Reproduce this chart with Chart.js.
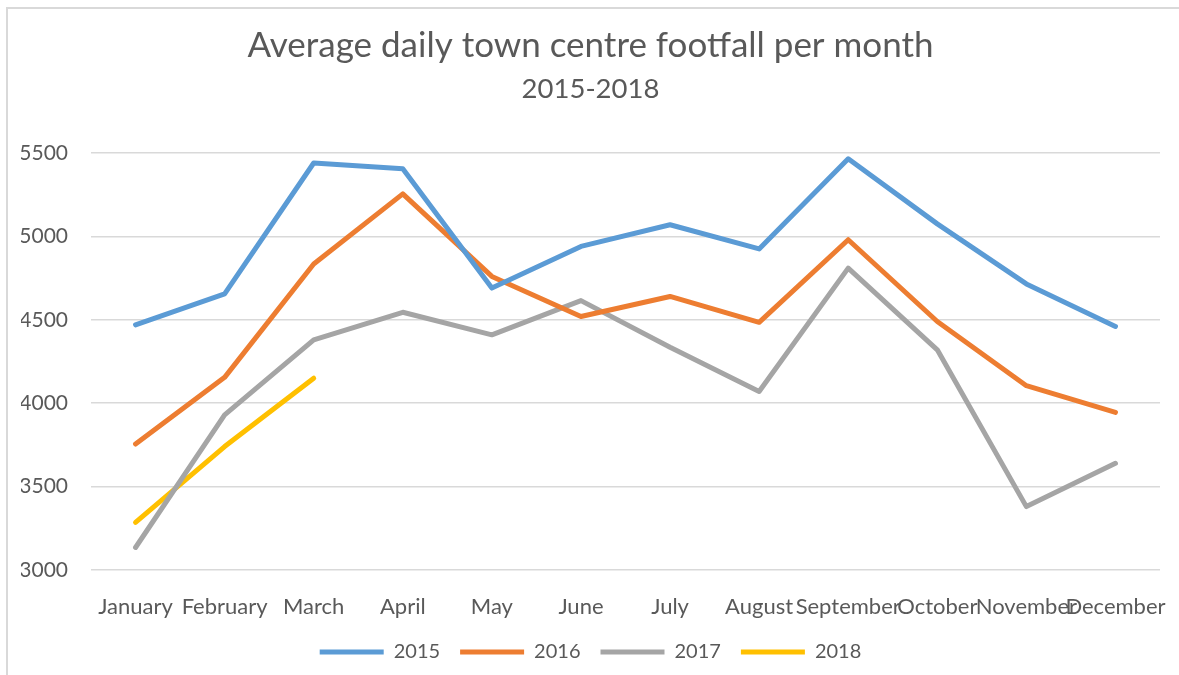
<!DOCTYPE html>
<html>
<head>
<meta charset="utf-8">
<script src="https://cdn.jsdelivr.net/npm/chart.js@4/dist/chart.umd.min.js"></script>
<style>
  html, body { margin: 0; padding: 0; background: #ffffff; }
  #wrap { position: relative; width: 1179px; height: 675px; overflow: hidden; }
  #frame { position: absolute; left: 6px; top: 7px; width: 1300px; height: 800px;
           border-top: 2px solid #d9d9d9; border-left: 2px solid #d9d9d9; }
  #myChart { position: absolute; left: 0; top: 0; }
</style>
</head>
<body>
<div id="wrap">
  <div id="frame"></div>
  <canvas id="myChart" width="1179" height="675"></canvas>
</div>
<script>
// Chart data
const months = ["January", "February", "March", "April", "May", "June",
                "July", "August", "September", "October", "November", "December"];
const years = ["2015", "2016", "2017", "2018"];
const footfall2015 = [4470, 4655, 5440, 5405, 4690, 4940, 5070, 4925, 5465, 5075, 4715, 4460];
const footfall2016 = [3755, 4155, 4835, 5255, 4760, 4520, 4640, 4485, 4980, 4490, 4105, 3945];
const footfall2017 = [3135, 3930, 4380, 4545, 4410, 4615, 4335, 4070, 4810, 4320, 3380, 3640];
const footfall2018 = [3285, 3740, 4150];
const yTicks = [3000, 3500, 4000, 4500, 5000, 5500];
const lineColors = ["#5b9bd5", "#ed7d31", "#a5a5a5", "#ffc000"];

const textColor = "#595959";
const fontName = "Lato, 'Open Sans', sans-serif";

const series = [footfall2015, footfall2016, footfall2017, footfall2018];

const data = {
  labels: months,
  datasets: series.map((values, i) => ({
    label: years[i],
    data: values,
    borderColor: lineColors[i],
    backgroundColor: lineColors[i],
    borderWidth: 5,
    borderCapStyle: "round",
    borderJoinStyle: "round",
    pointRadius: 0,
    tension: 0,
    fill: false
  }))
};

// left padding shifts the centred titles a little to the right
const padLeft = 21;

const config = {
  type: "line",
  data: data,
  options: {
    responsive: false,
    animation: false,
    layout: { padding: { left: padLeft, right: 19, top: 0, bottom: 3 } },
    plugins: {
      title: {
        display: true,
        text: "Average daily town centre footfall per month",
        color: textColor,
        font: { family: fontName, size: 35, weight: "normal" },
        padding: { top: 25, bottom: 6 }
      },
      subtitle: {
        display: true,
        text: "2015-2018",
        color: textColor,
        font: { family: fontName, size: 27.5, weight: "normal" },
        padding: { top: 0, bottom: 47 }
      },
      legend: {
        position: "bottom",
        labels: {
          color: textColor,
          font: { family: fontName, size: 20 },
          usePointStyle: true,
          pointStyle: "line",
          pointStyleWidth: 64,
          padding: 20
        }
      },
      tooltip: { enabled: false }
    },
    scales: {
      x: {
        offset: true,
        grid: { display: false, drawTicks: false },
        border: { display: false },
        ticks: {
          color: textColor,
          font: { family: fontName, size: 22 },
          autoSkip: false,
          maxRotation: 0,
          minRotation: 0,
          padding: 24
        },
        afterFit: (scale) => {
          scale.height = 52;
          scale.paddingLeft = 0;
          scale.paddingRight = 0;
        }
      },
      y: {
        min: 3000,
        max: 5500,
        afterBuildTicks: (scale) => { scale.ticks = yTicks.map(v => ({ value: v })); },
        grid: { color: "#d9d9d9", lineWidth: 1.5, drawTicks: false },
        border: { display: false },
        ticks: {
          color: textColor,
          font: { family: fontName, size: 21 },
          padding: 23,
          callback: (value) => String(value)
        },
        afterFit: (scale) => {
          scale.width = 91 - padLeft;
          scale.paddingTop = 0;
          scale.paddingBottom = 0;
        }
      }
    }
  }
};

const myChart = new Chart(document.getElementById("myChart"), config);
</script>
</body>
</html>
